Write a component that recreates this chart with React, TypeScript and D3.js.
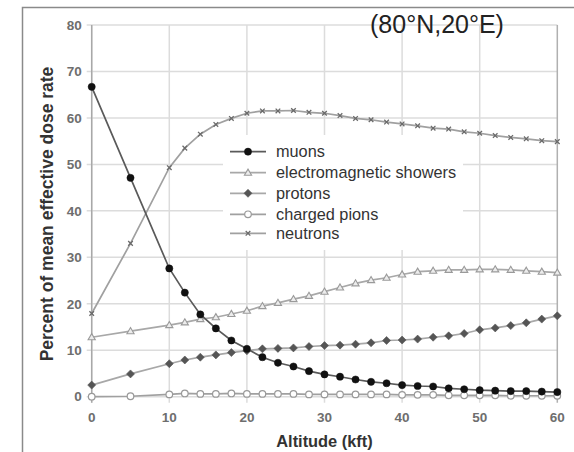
import React from "react";
import * as d3 from "d3";

const altitudes = [0, 5, 10, 12, 14, 16, 18, 20, 22, 24, 26, 28, 30, 32, 34, 36, 38, 40, 42, 44, 46, 48, 50, 52, 54, 56, 58, 60];
const muons = [66.7, 47.1, 27.6, 22.4, 17.7, 14.7, 12.1, 10.3, 8.5, 7.3, 6.5, 5.5, 4.8, 4.3, 3.7, 3.2, 2.9, 2.5, 2.3, 2.2, 1.8, 1.6, 1.4, 1.3, 1.2, 1.2, 1.1, 1.0];
const emShowers = [12.8, 14.1, 15.4, 16.0, 16.7, 17.1, 17.8, 18.5, 19.5, 20.2, 21.0, 21.7, 22.6, 23.5, 24.4, 25.1, 25.6, 26.3, 26.9, 27.1, 27.3, 27.3, 27.4, 27.4, 27.3, 27.1, 26.9, 26.7];
const protons = [2.5, 4.9, 7.1, 7.9, 8.5, 9.0, 9.5, 9.9, 10.3, 10.4, 10.5, 10.8, 11.0, 11.1, 11.3, 11.6, 12.1, 12.2, 12.4, 12.8, 13.1, 13.6, 14.4, 14.8, 15.3, 15.9, 16.7, 17.4];
const pions = [0, 0.1, 0.5, 0.7, 0.6, 0.6, 0.7, 0.6, 0.6, 0.6, 0.6, 0.5, 0.5, 0.5, 0.5, 0.5, 0.5, 0.4, 0.4, 0.4, 0.3, 0.3, 0.3, 0.3, 0.2, 0.2, 0.2, 0.2];
const neutrons = [17.9, 33.0, 49.3, 53.5, 56.5, 58.6, 59.9, 61.0, 61.5, 61.5, 61.6, 61.2, 61.0, 60.5, 59.9, 59.6, 59.1, 58.7, 58.3, 57.8, 57.6, 57.0, 56.7, 56.2, 55.8, 55.5, 55.1, 54.9];

const seriesNames = ["muons", "electromagnetic showers", "protons", "charged pions", "neutrons"];
const xTicks = [0, 10, 20, 30, 40, 50, 60];
const yTicks = [0, 10, 20, 30, 40, 50, 60, 70, 80];
const title = "(80°N,20°E)";
const xLabel = "Altitude (kft)";
const yLabel = "Percent of mean effective dose rate";

type Kind = "circle" | "triangle" | "diamond" | "open" | "cross";

const styles: { kind: Kind; line: string; fill: string; stroke: string }[] = [
  { kind: "circle", line: "#5a5a5a", fill: "#111", stroke: "#111" },
  { kind: "triangle", line: "#a8a8a8", fill: "#ececec", stroke: "#9a9a9a" },
  { kind: "diamond", line: "#a8a8a8", fill: "#555", stroke: "#555" },
  { kind: "open", line: "#a0a0a0", fill: "#fff", stroke: "#999" },
  { kind: "cross", line: "#a0a0a0", fill: "none", stroke: "#6a6a6a" },
];

function Marker({ kind, cx, cy, fill, stroke }: { kind: Kind; cx: number; cy: number; fill: string; stroke: string }) {
  if (kind === "circle") return <circle cx={cx} cy={cy} r={3.6} fill={fill} stroke={stroke} strokeWidth={0.5} />;
  if (kind === "open") return <circle cx={cx} cy={cy} r={3.3} fill={fill} stroke={stroke} strokeWidth={1.2} />;
  if (kind === "triangle") {
    const s = 3.6;
    return <path d={`M${cx},${cy - s} L${cx + s},${cy + s * 0.7} L${cx - s},${cy + s * 0.7} Z`} fill={fill} stroke={stroke} strokeWidth={1.1} />;
  }
  if (kind === "diamond") {
    const s = 4;
    return <path d={`M${cx},${cy - s} L${cx + s},${cy} L${cx},${cy + s} L${cx - s},${cy} Z`} fill={fill} stroke={stroke} strokeWidth={0.6} />;
  }
  const s = 2.3;
  return <path d={`M${cx - s},${cy - s} L${cx + s},${cy + s} M${cx + s},${cy - s} L${cx - s},${cy + s}`} stroke={stroke} strokeWidth={1.3} fill="none" />;
}

export default function App() {
  const W = 574, H = 452;
  const x = d3.scaleLinear().domain([0, 60]).range([91.7, 557.3]);
  const y = d3.scaleLinear().domain([0, 80]).range([396.7, 25]);
  const data = [muons, emShowers, protons, pions, neutrons];
  const line = d3.line<number>().x((_, i) => x(altitudes[i])).y((v) => y(v));
  const drawOrder = [3, 2, 1, 4, 0];

  const lg = { x0: 223, y0: 135, x1: 463, y1: 250 };
  const rowY = [151.7, 172.7, 193.3, 214.3, 233.3];

  return (
    <svg width={W} height={H} style={{ position: "absolute", left: 0, top: 0, background: "#fff" }} fontFamily="'Liberation Sans', Arial, sans-serif">
      <rect x={0} y={0} width={W} height={H} fill="#fff" />
      <rect x={22.5} y={7.5} width={700} height={600} fill="none" stroke="#8a8a8a" strokeWidth={1.5} />
      {yTicks.map((t) => (
        <line key={"gy" + t} x1={x(0) - 5} x2={x(60)} y1={y(t)} y2={y(t)} stroke="#dcdcdc" strokeWidth={1.5} />
      ))}
      {xTicks.map((t) => (
        <line key={"gx" + t} x1={x(t)} x2={x(t)} y1={y(80)} y2={y(0) + 6} stroke={t === 60 ? "#b0b0b0" : "#dcdcdc"} strokeWidth={1.5} />
      ))}
      <line x1={x(0)} x2={x(0)} y1={y(80)} y2={y(0) + 6} stroke="#a8a8a8" strokeWidth={1.5} />
      {yTicks.map((t) => (
        <text key={"ly" + t} x={x(0) - 10} y={y(t)} dy="0.35em" textAnchor="end" fontSize={13.5} fontWeight="bold" fill="#6e6e6e">{t}</text>
      ))}
      {xTicks.map((t) => (
        <text key={"lx" + t} x={x(t)} y={421.5} textAnchor="middle" fontSize={13.5} fontWeight="bold" fill="#6e6e6e">{t}</text>
      ))}
      <text x={(x(0) + x(60)) / 2} y={447} textAnchor="middle" fontSize={16.4} fontWeight="bold" fill="#333">{xLabel}</text>
      <text transform={`translate(53,214) rotate(-90)`} textAnchor="middle" fontSize={17.5} fontWeight="bold" fill="#333">{yLabel}</text>
      <rect x={lg.x0} y={lg.y0} width={lg.x1 - lg.x0} height={lg.y1 - lg.y0} fill="#fff" />
      {drawOrder.map((si) => (
        <g key={"s" + si}>
          <path d={line(data[si]) || ""} fill="none" stroke={styles[si].line} strokeWidth={1.7} />
          {data[si].map((v, i) => (
            <Marker key={i} kind={styles[si].kind} cx={x(altitudes[i])} cy={y(v)} fill={styles[si].fill} stroke={styles[si].stroke} />
          ))}
        </g>
      ))}
      {seriesNames.map((n, i) => (
        <g key={"lg" + n}>
          <line x1={230} x2={266} y1={rowY[i]} y2={rowY[i]} stroke={styles[i].line} strokeWidth={1.7} />
          <Marker kind={styles[i].kind} cx={248} cy={rowY[i]} fill={styles[i].fill} stroke={styles[i].stroke} />
          <text x={276} y={rowY[i]} dy="0.35em" fontSize={16.3} fill="#333">{n}</text>
        </g>
      ))}
      <text x={370} y={33} fontSize={25} fill="#222">{title}</text>
    </svg>
  );
}
